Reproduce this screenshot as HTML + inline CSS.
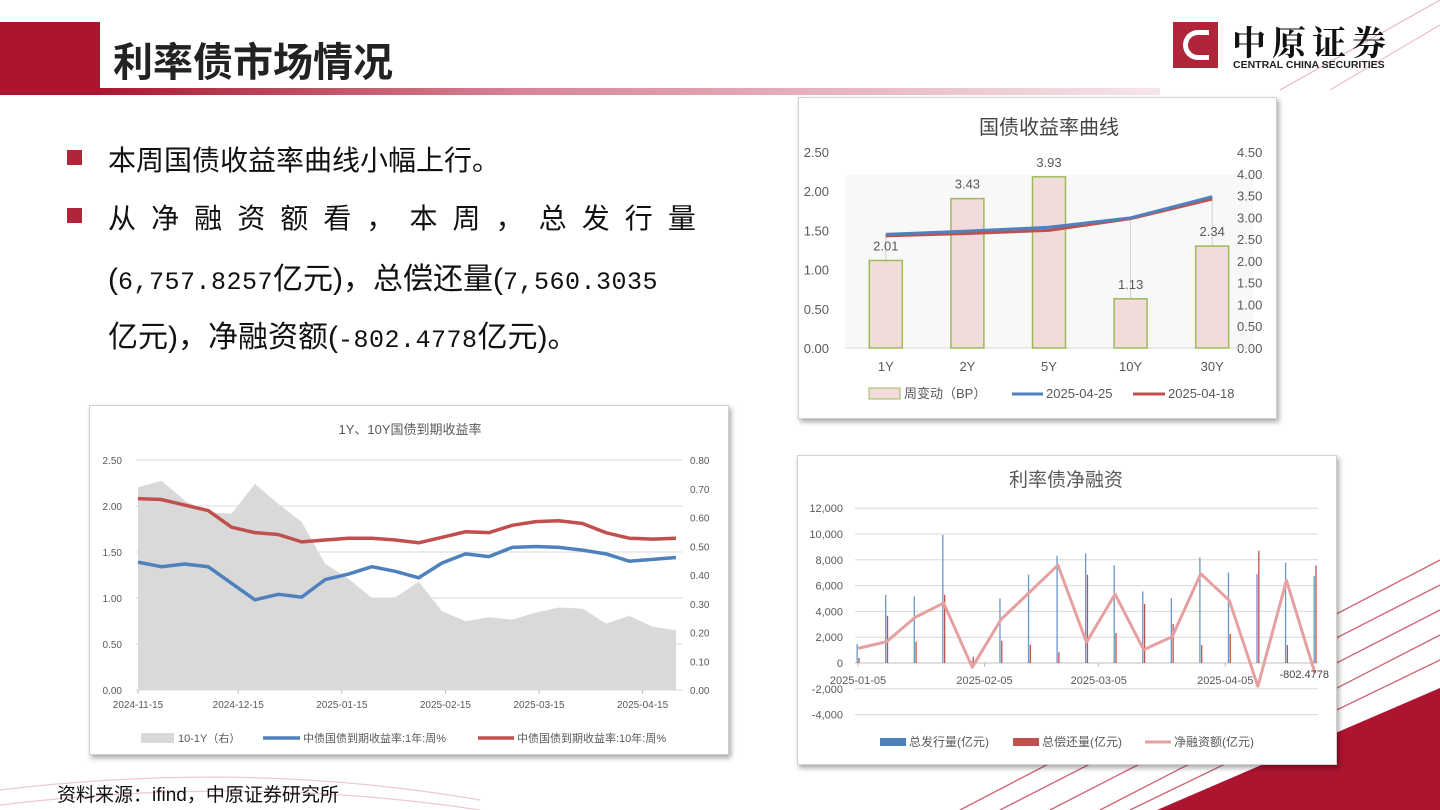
<!DOCTYPE html>
<html><head><meta charset="utf-8">
<style>
body{margin:0;width:1440px;height:810px;overflow:hidden;background:#fff;position:relative;font-family:"Liberation Sans","Noto Sans CJK SC",sans-serif;}
.abs{position:absolute;}
.cbox{position:absolute;background:#fff;border:1px solid #d0d0d0;box-shadow:2px 3px 5px rgba(0,0,0,0.35);}
.bullet{position:absolute;width:15px;height:15px;background:#b0253a;}
.t{position:absolute;font-size:28px;color:#111;white-space:nowrap;font-family:"Liberation Sans","Noto Sans CJK SC",sans-serif;}
.t2{font-size:30px;}
.m{font-family:"Liberation Mono","Noto Sans CJK SC",monospace;font-size:25px;letter-spacing:0.5px;}
svg text{font-family:"Liberation Sans","Noto Sans CJK SC",sans-serif;}
</style></head><body>
<svg class="abs" style="left:0;top:0" width="1440" height="810">
<defs><linearGradient id="ug" x1="0" x2="1"><stop offset="0" stop-color="#a8192f"/><stop offset="0.4" stop-color="#d78597"/><stop offset="1" stop-color="#f6e6ea"/></linearGradient></defs>
<rect x="0" y="22" width="100" height="73" fill="#ad1430"/>
<rect x="100" y="88" width="1060" height="7" fill="url(#ug)"/>
<g stroke="#c0304a" fill="none" stroke-width="1.3" opacity="0.75">
<line x1="1000" y1="810" x2="1440" y2="585"/>
<line x1="960" y1="810" x2="1440" y2="560"/>
<line x1="1050" y1="810" x2="1440" y2="610"/>
<line x1="1100" y1="810" x2="1440" y2="635"/>
<line x1="1130" y1="810" x2="1440" y2="660"/>
<line x1="1280" y1="90" x2="1440" y2="0" opacity="0.4"/>
<line x1="1330" y1="90" x2="1440" y2="25" opacity="0.4"/>
<path d="M0 790 Q250 760 480 800" opacity="0.35"/>
<path d="M0 805 Q250 775 480 810" opacity="0.35"/>
</g>
<polygon points="1157,810 1440,688 1440,810" fill="#ad1430"/>
</svg>
<div class="abs" style="left:113px;top:30px;font-size:40px;font-weight:bold;color:#222;">利率债市场情况</div>
<div class="abs" style="left:1173px;top:22px;width:45px;height:46px;background:#b0253a;"><div style="position:absolute;left:10px;top:8px;width:26px;height:30px;border:5px solid #fff;border-right:none;border-radius:20px 0 0 20px;box-sizing:border-box;"></div></div>
<div class="abs" style="left:1232px;top:16px;font-size:34px;font-weight:bold;letter-spacing:6px;color:#111;font-family:'Noto Serif CJK SC',serif;">中原证券</div>
<div class="abs" style="left:1233px;top:59px;font-size:10.5px;font-weight:bold;color:#222;">CENTRAL CHINA SECURITIES</div>

<div class="bullet" style="left:67px;top:150px"></div>
<div class="t" style="left:108px;top:139px">本周国债收益率曲线小幅上行。</div>
<div class="bullet" style="left:67px;top:208px"></div>
<div class="t" style="left:108px;top:197px;width:588px;display:flex;justify-content:space-between"><span>从</span><span>净</span><span>融</span><span>资</span><span>额</span><span>看</span><span>，</span><span>本</span><span>周</span><span>，</span><span>总</span><span>发</span><span>行</span><span>量</span></div>
<div class="t t2" style="left:108px;top:254px">(<span class="m">6,757.8257</span>亿元)，总偿还量(<span class="m">7,560.3035</span></div>
<div class="t t2" style="left:108px;top:312px">亿元)，净融资额(<span class="m">-802.4778</span>亿元)。</div>
<div class="abs" style="left:57px;top:780px;font-size:19px;color:#111">资料来源：ifind，中原证券研究所</div>

<div class="cbox" style="left:798px;top:97px;width:477px;height:320px"></div>
<div class="cbox" style="left:89px;top:405px;width:638px;height:348px"></div>
<div class="cbox" style="left:797px;top:455px;width:538px;height:308px"></div>
<svg id="c" class="abs" style="left:0;top:0" width="1440" height="810"></svg>
<script>
// ---- Chart 1: yield curve ----
const c1Cats=["1Y","2Y","5Y","10Y","30Y"];
const c1Change=[2.01,3.43,3.93,1.13,2.34];
const c1Y0425=[1.45,1.49,1.54,1.66,1.93];
const c1Y0418=[1.43,1.46,1.50,1.65,1.90];
const c1LeftTicks=["0.00","0.50","1.00","1.50","2.00","2.50"];
const c1RightTicks=["0.00","0.50","1.00","1.50","2.00","2.50","3.00","3.50","4.00","4.50"];
// ---- Chart 2: 1Y/10Y history ----
const c2Dates=["2024-11-15","2024-11-22","2024-11-29","2024-12-06","2024-12-13","2024-12-20","2024-12-27","2025-01-03","2025-01-10","2025-01-17","2025-01-24","2025-01-31","2025-02-07","2025-02-14","2025-02-21","2025-02-28","2025-03-07","2025-03-14","2025-03-21","2025-03-28","2025-04-04","2025-04-11","2025-04-18","2025-04-25"];
const c2Y1=[1.39,1.34,1.37,1.34,1.16,0.98,1.04,1.01,1.20,1.26,1.34,1.29,1.22,1.38,1.48,1.45,1.55,1.56,1.55,1.52,1.48,1.40,1.42,1.44];
const c2Y10=[2.08,2.07,2.01,1.95,1.77,1.71,1.69,1.61,1.63,1.65,1.65,1.63,1.60,1.66,1.72,1.71,1.79,1.83,1.84,1.81,1.71,1.65,1.64,1.65];
const c2Spread=[0.705,0.728,0.659,0.618,0.613,0.717,0.647,0.584,0.439,0.387,0.320,0.322,0.376,0.274,0.239,0.253,0.245,0.269,0.287,0.283,0.231,0.258,0.220,0.208];
const c2LeftTicks=["0.00","0.50","1.00","1.50","2.00","2.50"];
const c2RightTicks=["0.00","0.10","0.20","0.30","0.40","0.50","0.60","0.70","0.80"];
const c2XLabels=["2024-11-15","2024-12-15","2025-01-15","2025-02-15","2025-03-15","2025-04-15"];
// ---- Chart 3: net financing ----
const c3Issue=[1470,5290,5160,9935,155,5000,6840,8310,8490,7590,5550,5030,8180,7020,6890,7770,6758];
const c3Redeem=[390,3660,1650,5290,490,1730,1420,830,6840,2320,4570,3020,1390,2250,8700,1390,7560];
const c3Net=[1135,1650,3535,4645,-335,3355,5470,7590,1600,5340,1030,2040,6915,4850,-1800,6400,-802.4778];
const c3Ticks=[-4000,-2000,0,2000,4000,6000,8000,10000,12000];
const c3XLabels=["2025-01-05","2025-02-05","2025-03-05","2025-04-05"];
const c3XDays=[0,31,59,90];

const svg=document.getElementById('c');
const NS="http://www.w3.org/2000/svg";
function mk(tag,attrs,parent){const e=document.createElementNS(NS,tag);for(const k in attrs)e.setAttribute(k,attrs[k]);(parent||svg).appendChild(e);return e;}
function txt(x,y,s,size,fill,anchor,parent){const e=mk('text',{x:x,y:y,'font-size':size,fill:fill,'text-anchor':anchor||'start'},parent);e.textContent=s;return e;}

// Chart 1
(function(){
 const g=mk('g',{});
 const x0=845,x1=1253,yb=348,yt=152;
 const yL=v=>yb-(v/2.5)*(yb-yt), yR=v=>yb-(v/4.5)*(yb-yt);
 const bw=(x1-x0)/c1Cats.length, xc=i=>x0+bw*(i+0.5);
 mk('rect',{x:x0,y:175,width:x1-x0,height:yb-175,fill:'#f4f4f4',opacity:0.6},g);
 const tt=txt(1049,134,"国债收益率曲线",20,'#444','middle',g);
 c1LeftTicks.forEach((s,i)=>{const l=txt(829,yL(+s)+5,s,13,'#595959','end',g);});
 c1RightTicks.forEach((s,i)=>{const l=txt(1237,yR(+s)+5,s,13,'#595959','start',g);});
 mk('line',{x1:x0,y1:yb,x2:x1,y2:yb,stroke:'#d9d9d9'},g);
 c1Cats.forEach((c,i)=>{
  mk('line',{x1:xc(i),y1:yb,x2:xc(i),y2:yL(c1Y0425[i]),stroke:'#d0d0d0'},g);
  const b=mk('rect',{x:xc(i)-16.5,y:yR(c1Change[i]),width:33,height:yb-yR(c1Change[i]),fill:'#f2dcdb',stroke:'#9bbb59','stroke-width':1.5},g);
  
  const v=txt(xc(i),yR(c1Change[i])-10,c1Change[i].toFixed(2),13,'#595959','middle',g);
  const l=txt(xc(i),371,c,13,'#595959','middle',g);
 });
 const pts=a=>a.map((v,i)=>xc(i)+','+yL(v)).join(' ');
 const r=mk('polyline',{points:pts(c1Y0418),fill:'none',stroke:'#c0504d','stroke-width':3},g);
 const bl=mk('polyline',{points:pts(c1Y0425),fill:'none',stroke:'#4f81bd','stroke-width':3},g);
 const lg=mk('g',{},g);
 mk('rect',{x:869,y:388,width:31,height:11,fill:'#f2dcdb',stroke:'#9bbb59'},lg);txt(904,398,"周变动（BP）",13,'#595959','start',lg);
 mk('line',{x1:1012,y1:394,x2:1043,y2:394,stroke:'#4f81bd','stroke-width':3},lg);txt(1046,398,"2025-04-25",13,'#595959','start',lg);
 mk('line',{x1:1133,y1:394,x2:1165,y2:394,stroke:'#c0504d','stroke-width':3},lg);txt(1168,398,"2025-04-18",13,'#595959','start',lg);
})();

// Chart 2
(function(){
 const g=mk('g',{});
 const yb=690,yt=460,x0=138,x1=676;
 const yL=v=>yb-(v/2.5)*(yb-yt), yR=v=>yb-(v/0.8)*(yb-yt);
 const d0=Date.parse(c2Dates[0]),d1=Date.parse(c2Dates[c2Dates.length-1]);
 const xs=d=>x0+(Date.parse(d)-d0)/(d1-d0)*(x1-x0);
 const tt=txt(410,434,"1Y、10Y国债到期收益率",13,'#595959','middle',g);
 c2LeftTicks.forEach(s=>{mk('line',{x1:136,y1:yL(+s),x2:682,y2:yL(+s),stroke:'#d9d9d9'},g);const l=txt(122,yL(+s)+4,s,10,'#595959','end',g);});
 c2RightTicks.forEach(s=>{const l=txt(690,yR(+s)+4,s,10,'#595959','start',g);});
 let p='M'+xs(c2Dates[0])+','+yb;c2Spread.forEach((v,i)=>p+=' L'+xs(c2Dates[i])+','+yR(v));p+=' L'+xs(c2Dates[c2Dates.length-1])+','+yb+' Z';
 const a=mk('path',{d:p,fill:'#d9d9d9'},g);
 c2XLabels.forEach(s=>{const x=xs(s);mk('line',{x1:x,y1:yb,x2:x,y2:yb+4,stroke:'#bfbfbf'},g);const l=txt(x,708,s,10,'#595959','middle',g);});
 const pts=arr=>arr.map((v,i)=>xs(c2Dates[i])+','+yL(v)).join(' ');
 const r=mk('polyline',{points:pts(c2Y10),fill:'none',stroke:'#c0504d','stroke-width':3.5,'stroke-linejoin':'round'},g);
 const b=mk('polyline',{points:pts(c2Y1),fill:'none',stroke:'#4f81bd','stroke-width':3.5,'stroke-linejoin':'round'},g);
 const lg=mk('g',{},g);
 mk('rect',{x:141,y:733,width:33,height:10,fill:'#d9d9d9'},lg);txt(178,742,"10-1Y（右）",11,'#595959','start',lg);
 mk('line',{x1:263,y1:738,x2:300,y2:738,stroke:'#4f81bd','stroke-width':3.5},lg);txt(303,742,"中债国债到期收益率:1年:周%",11,'#595959','start',lg);
 mk('line',{x1:478,y1:738,x2:514,y2:738,stroke:'#c0504d','stroke-width':3.5},lg);txt(517,742,"中债国债到期收益率:10年:周%",11,'#595959','start',lg);
})();

// Chart 3
(function(){
 const g=mk('g',{});
 const x0=858,x1=1315,y0=663,per=12.9/1000;
 const ys=v=>y0-v*per;
 const n=c3Net.length, xs=i=>x0+i*(x1-x0)/(n-1), xd=d=>x0+d/((n-1)*7)*(x1-x0);
 const tt=txt(1066,486,"利率债净融资",19,'#595959','middle',g);
 c3Ticks.forEach(v=>{mk('line',{x1:855,y1:ys(v),x2:1318,y2:ys(v),stroke:'#d9d9d9'},g);const l=txt(843,ys(v)+4,v.toLocaleString('en-US'),11,'#595959','end',g);});
 mk('line',{x1:855,y1:y0,x2:1318,y2:y0,stroke:'#bfbfbf'},g);
 c3XLabels.forEach((s,i)=>{const x=xd(c3XDays[i]);mk('line',{x1:x,y1:y0,x2:x,y2:y0+4,stroke:'#bfbfbf'},g);const l=txt(x,684,s,11,'#595959','middle',g);});
 for(let i=0;i<n;i++){
  const b=mk('rect',{x:xs(i)-1.5,y:ys(c3Issue[i]),width:1.3,height:c3Issue[i]*per,fill:'#6a97cc'},g);
  const r=mk('rect',{x:xs(i)+0.3,y:ys(c3Redeem[i]),width:1.3,height:c3Redeem[i]*per,fill:'#c0504d'},g);
 }
 const ln=mk('polyline',{points:c3Net.map((v,i)=>xs(i)+','+ys(v)).join(' '),fill:'none',stroke:'#e6a0a0','stroke-width':3,'stroke-linejoin':'round'},g);
 const lab=txt(1329,678,c3Net[n-1].toFixed(4),11,'#404040','end',g);
 const lg=mk('g',{},g);
 mk('rect',{x:880,y:738,width:26,height:8,fill:'#4f81bd'},lg);txt(909,746,"总发行量(亿元)",12,'#595959','start',lg);
 mk('rect',{x:1013,y:738,width:26,height:8,fill:'#c0504d'},lg);txt(1042,746,"总偿还量(亿元)",12,'#595959','start',lg);
 mk('line',{x1:1145,y1:742,x2:1171,y2:742,stroke:'#e6a0a0','stroke-width':3},lg);txt(1174,746,"净融资额(亿元)",12,'#595959','start',lg);
})();
</script>
</body></html>
